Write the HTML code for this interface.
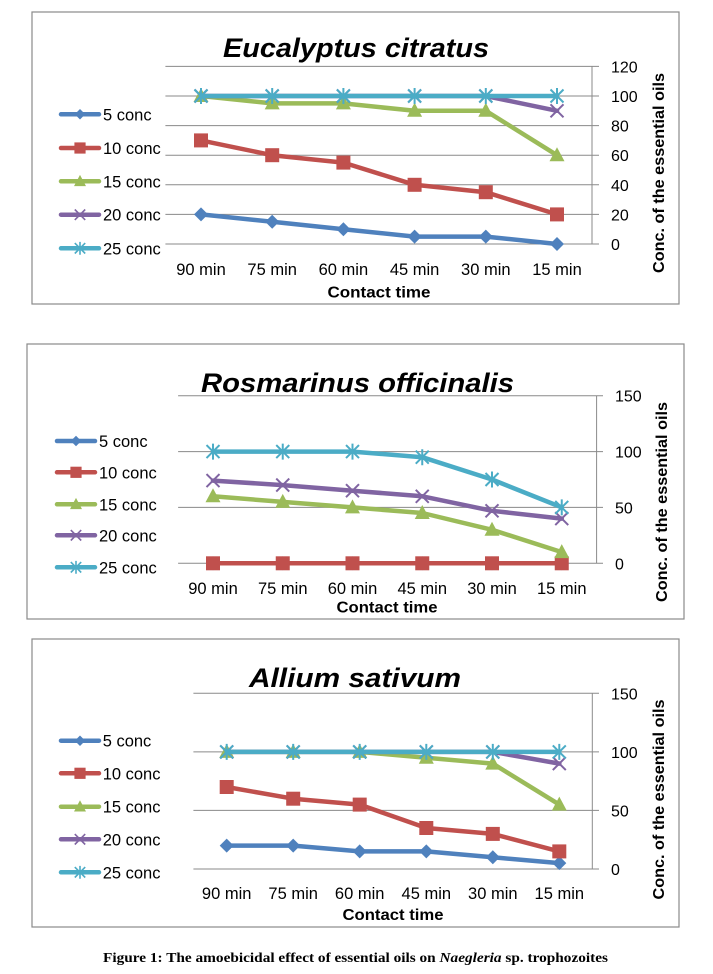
<!DOCTYPE html>
<html><head><meta charset="utf-8"><style>
html,body{margin:0;padding:0;background:#fff;}
svg{display:block;}
text{font-family:"Liberation Sans",Arial,sans-serif;fill:#000;}
.tk{font-size:16px;}
.lg{font-size:16.5px;}
.xl{font-size:16.5px;}
.ax{font-size:16px;font-weight:bold;}
.tt{font-size:27px;font-weight:bold;font-style:italic;}
.grid{stroke:#8a8a8a;stroke-width:1;fill:none;}
.frame{stroke:#8a8a8a;stroke-width:1.2;fill:#fff;}
.l1{stroke:#4f81bd;stroke-width:4.5;fill:none;stroke-linejoin:round;stroke-linecap:round;}
.l2{stroke:#c0504d;stroke-width:4.5;fill:none;stroke-linejoin:round;stroke-linecap:round;}
.l3{stroke:#9bbb59;stroke-width:4.5;fill:none;stroke-linejoin:round;stroke-linecap:round;}
.l4{stroke:#8064a2;stroke-width:4.5;fill:none;stroke-linejoin:round;stroke-linecap:round;}
.l5{stroke:#4bacc6;stroke-width:4.5;fill:none;stroke-linejoin:round;stroke-linecap:round;}
</style></head><body>
<svg width="713" height="974" viewBox="0 0 713 974" xmlns="http://www.w3.org/2000/svg">
<defs>
<g id="dia"><polygon points="0,-7 7,0 0,7 -7,0" fill="#4f81bd"/></g>
<g id="sq"><rect x="-7" y="-7" width="14" height="14" fill="#c0504d"/></g>
<g id="tri"><polygon points="0,-8 7.5,6 -7.5,6" fill="#9bbb59"/></g>
<g id="xm"><path d="M-6.5,-6.5L6.5,6.5M-6.5,6.5L6.5,-6.5" stroke="#8064a2" stroke-width="2" fill="none"/></g>
<g id="st"><path d="M-6.5,-6.5L6.5,6.5M-6.5,6.5L6.5,-6.5M0,-8V8" stroke="#4bacc6" stroke-width="2" fill="none"/></g>
</defs>
<rect width="713" height="974" fill="#fff"/>

<!-- ================= CHART 1 ================= -->
<rect class="frame" x="32" y="12" width="647" height="292"/>
<text class="tt" x="223" y="57" textLength="266" lengthAdjust="spacingAndGlyphs">Eucalyptus citratus</text>
<g class="grid">
<path d="M165.4,66.4H599M165.4,96H599M165.4,125.6H599M165.4,155.2H599M165.4,184.8H599M165.4,214.4H599M165.4,244H599"/>
<path d="M592,66.4V244"/>
</g>
<g class="tk">
<text x="611" y="72.4">120</text><text x="611" y="102">100</text><text x="611" y="131.6">80</text>
<text x="611" y="161.2">60</text><text x="611" y="190.8">40</text><text x="611" y="220.4">20</text><text x="611" y="250">0</text>
</g>
<g class="xl" text-anchor="middle">
<text x="201" y="275">90 min</text><text x="272.2" y="275">75 min</text><text x="343.4" y="275">60 min</text>
<text x="414.6" y="275">45 min</text><text x="485.8" y="275">30 min</text><text x="557" y="275">15 min</text>
</g>
<text class="ax" x="379" y="297.5" text-anchor="middle" textLength="103" lengthAdjust="spacingAndGlyphs">Contact time</text>
<text class="ax" transform="translate(664,173) rotate(-90)" text-anchor="middle" textLength="200" lengthAdjust="spacingAndGlyphs">Conc. of the essential oils</text>
<!-- series -->
<polyline class="l1" points="201,214.4 272.2,221.8 343.4,229.2 414.6,236.6 485.8,236.6 557,244"/>
<use href="#dia" x="201" y="214.4"/><use href="#dia" x="272.2" y="221.8"/><use href="#dia" x="343.4" y="229.2"/><use href="#dia" x="414.6" y="236.6"/><use href="#dia" x="485.8" y="236.6"/><use href="#dia" x="557" y="244"/>
<polyline class="l2" points="201,140.4 272.2,155.2 343.4,162.6 414.6,184.8 485.8,192.2 557,214.4"/>
<use href="#sq" x="201" y="140.4"/><use href="#sq" x="272.2" y="155.2"/><use href="#sq" x="343.4" y="162.6"/><use href="#sq" x="414.6" y="184.8"/><use href="#sq" x="485.8" y="192.2"/><use href="#sq" x="557" y="214.4"/>
<polyline class="l3" points="201,96 272.2,103.4 343.4,103.4 414.6,110.8 485.8,110.8 557,155.2"/>
<use href="#tri" x="201" y="96"/><use href="#tri" x="272.2" y="103.4"/><use href="#tri" x="343.4" y="103.4"/><use href="#tri" x="414.6" y="110.8"/><use href="#tri" x="485.8" y="110.8"/><use href="#tri" x="557" y="155.2"/>
<polyline class="l4" points="201,96 272.2,96 343.4,96 414.6,96 485.8,96 557,110.8"/>
<use href="#xm" x="201" y="96"/><use href="#xm" x="272.2" y="96"/><use href="#xm" x="343.4" y="96"/><use href="#xm" x="414.6" y="96"/><use href="#xm" x="485.8" y="96"/><use href="#xm" x="557" y="110.8"/>
<polyline class="l5" points="201,96 272.2,96 343.4,96 414.6,96 485.8,96 557,96"/>
<use href="#st" x="201" y="96"/><use href="#st" x="272.2" y="96"/><use href="#st" x="343.4" y="96"/><use href="#st" x="414.6" y="96"/><use href="#st" x="485.8" y="96"/><use href="#st" x="557" y="96"/>
<!-- legend -->
<line class="l1" x1="61" y1="114.3" x2="99" y2="114.3"/><use href="#dia" transform="translate(80,114.3) scale(0.75)"/>
<line class="l2" x1="61" y1="148" x2="99" y2="148"/><use href="#sq" transform="translate(80,148) scale(0.8)"/>
<line class="l3" x1="61" y1="181.3" x2="99" y2="181.3"/><use href="#tri" transform="translate(80,181.3) scale(0.8)"/>
<line class="l4" x1="61" y1="214.7" x2="99" y2="214.7"/><use href="#xm" transform="translate(80,214.7) scale(0.8)"/>
<line class="l5" x1="61" y1="248.3" x2="99" y2="248.3"/><use href="#st" transform="translate(80,248.3) scale(0.8)"/>
<g class="lg">
<text x="103" y="120.3">5 conc</text><text x="103" y="154">10 conc</text><text x="103" y="187.3">15 conc</text>
<text x="103" y="220.7">20 conc</text><text x="103" y="254.3">25 conc</text>
</g>

<!-- ================= CHART 2 ================= -->
<rect class="frame" x="27" y="344" width="657" height="275"/>
<text class="tt" x="201" y="392" textLength="313" lengthAdjust="spacingAndGlyphs">Rosmarinus officinalis</text>
<g class="grid">
<path d="M178.1,395.7H603M178.1,451.6H603M178.1,507.4H603M178.1,563.3H603"/>
<path d="M596.6,395.7V563.3"/>
</g>
<g class="tk">
<text x="615" y="401.7">150</text><text x="615" y="457.6">100</text><text x="615" y="513.4">50</text><text x="615" y="569.3">0</text>
</g>
<g class="xl" text-anchor="middle">
<text x="213" y="594">90 min</text><text x="282.75" y="594">75 min</text><text x="352.5" y="594">60 min</text>
<text x="422.25" y="594">45 min</text><text x="492" y="594">30 min</text><text x="561.75" y="594">15 min</text>
</g>
<text class="ax" x="387" y="612.5" text-anchor="middle" textLength="101" lengthAdjust="spacingAndGlyphs">Contact time</text>
<text class="ax" transform="translate(667,502) rotate(-90)" text-anchor="middle" textLength="200" lengthAdjust="spacingAndGlyphs">Conc. of the essential oils</text>
<polyline class="l1" points="213,563.3 282.75,563.3 352.5,563.3 422.25,563.3 492,563.3 561.75,563.3"/>
<use href="#dia" x="213" y="563.3"/><use href="#dia" x="282.75" y="563.3"/><use href="#dia" x="352.5" y="563.3"/><use href="#dia" x="422.25" y="563.3"/><use href="#dia" x="492" y="563.3"/><use href="#dia" x="561.75" y="563.3"/>
<polyline class="l2" points="213,563.3 282.75,563.3 352.5,563.3 422.25,563.3 492,563.3 561.75,563.3"/>
<use href="#sq" x="213" y="563.3"/><use href="#sq" x="282.75" y="563.3"/><use href="#sq" x="352.5" y="563.3"/><use href="#sq" x="422.25" y="563.3"/><use href="#sq" x="492" y="563.3"/><use href="#sq" x="561.75" y="563.3"/>
<polyline class="l3" points="213,496.3 282.75,501.9 352.5,507.4 422.25,513 492,529.8 561.75,552.1"/>
<use href="#tri" x="213" y="496.3"/><use href="#tri" x="282.75" y="501.9"/><use href="#tri" x="352.5" y="507.4"/><use href="#tri" x="422.25" y="513"/><use href="#tri" x="492" y="529.8"/><use href="#tri" x="561.75" y="552.1"/>
<polyline class="l4" points="213,480.6 282.75,485.1 352.5,490.7 422.25,496.3 492,510.8 561.75,518.6"/>
<use href="#xm" x="213" y="480.6"/><use href="#xm" x="282.75" y="485.1"/><use href="#xm" x="352.5" y="490.7"/><use href="#xm" x="422.25" y="496.3"/><use href="#xm" x="492" y="510.8"/><use href="#xm" x="561.75" y="518.6"/>
<polyline class="l5" points="213,451.6 282.75,451.6 352.5,451.6 422.25,457.2 492,479.5 561.75,507.4"/>
<use href="#st" x="213" y="451.6"/><use href="#st" x="282.75" y="451.6"/><use href="#st" x="352.5" y="451.6"/><use href="#st" x="422.25" y="457.2"/><use href="#st" x="492" y="479.5"/><use href="#st" x="561.75" y="507.4"/>
<line class="l1" x1="57" y1="441" x2="95" y2="441"/><use href="#dia" transform="translate(76,441) scale(0.75)"/>
<line class="l2" x1="57" y1="472.3" x2="95" y2="472.3"/><use href="#sq" transform="translate(76,472.3) scale(0.8)"/>
<line class="l3" x1="57" y1="504.3" x2="95" y2="504.3"/><use href="#tri" transform="translate(76,504.3) scale(0.8)"/>
<line class="l4" x1="57" y1="535.3" x2="95" y2="535.3"/><use href="#xm" transform="translate(76,535.3) scale(0.8)"/>
<line class="l5" x1="57" y1="567.3" x2="95" y2="567.3"/><use href="#st" transform="translate(76,567.3) scale(0.8)"/>
<g class="lg">
<text x="99" y="447">5 conc</text><text x="99" y="478.3">10 conc</text><text x="99" y="510.3">15 conc</text>
<text x="99" y="541.3">20 conc</text><text x="99" y="573.3">25 conc</text>
</g>

<!-- ================= CHART 3 ================= -->
<rect class="frame" x="32" y="639" width="647" height="288"/>
<text class="tt" x="249" y="687" textLength="212" lengthAdjust="spacingAndGlyphs">Allium sativum</text>
<g class="grid">
<path d="M193.4,693.3H599M193.4,751.9H599M193.4,810.4H599M193.4,869H599"/>
<path d="M592.3,693.3V869"/>
</g>
<g class="tk">
<text x="611" y="699.3">150</text><text x="611" y="757.9">100</text><text x="611" y="816.4">50</text><text x="611" y="875">0</text>
</g>
<g class="xl" text-anchor="middle">
<text x="226.7" y="899">90 min</text><text x="293.2" y="899">75 min</text><text x="359.7" y="899">60 min</text>
<text x="426.3" y="899">45 min</text><text x="492.8" y="899">30 min</text><text x="559.3" y="899">15 min</text>
</g>
<text class="ax" x="393" y="920" text-anchor="middle" textLength="101" lengthAdjust="spacingAndGlyphs">Contact time</text>
<text class="ax" transform="translate(664,799.5) rotate(-90)" text-anchor="middle" textLength="200" lengthAdjust="spacingAndGlyphs">Conc. of the essential oils</text>
<polyline class="l1" points="226.7,845.6 293.2,845.6 359.7,851.4 426.3,851.4 492.8,857.3 559.3,863.1"/>
<use href="#dia" x="226.7" y="845.6"/><use href="#dia" x="293.2" y="845.6"/><use href="#dia" x="359.7" y="851.4"/><use href="#dia" x="426.3" y="851.4"/><use href="#dia" x="492.8" y="857.3"/><use href="#dia" x="559.3" y="863.1"/>
<polyline class="l2" points="226.7,787 293.2,798.7 359.7,804.6 426.3,828 492.8,833.9 559.3,851.4"/>
<use href="#sq" x="226.7" y="787"/><use href="#sq" x="293.2" y="798.7"/><use href="#sq" x="359.7" y="804.6"/><use href="#sq" x="426.3" y="828"/><use href="#sq" x="492.8" y="833.9"/><use href="#sq" x="559.3" y="851.4"/>
<polyline class="l3" points="226.7,751.9 293.2,751.9 359.7,751.9 426.3,757.7 492.8,763.6 559.3,804.6"/>
<use href="#tri" x="226.7" y="751.9"/><use href="#tri" x="293.2" y="751.9"/><use href="#tri" x="359.7" y="751.9"/><use href="#tri" x="426.3" y="757.7"/><use href="#tri" x="492.8" y="763.6"/><use href="#tri" x="559.3" y="804.6"/>
<polyline class="l4" points="226.7,751.9 293.2,751.9 359.7,751.9 426.3,751.9 492.8,751.9 559.3,763.6"/>
<use href="#xm" x="226.7" y="751.9"/><use href="#xm" x="293.2" y="751.9"/><use href="#xm" x="359.7" y="751.9"/><use href="#xm" x="426.3" y="751.9"/><use href="#xm" x="492.8" y="751.9"/><use href="#xm" x="559.3" y="763.6"/>
<polyline class="l5" points="226.7,751.9 293.2,751.9 359.7,751.9 426.3,751.9 492.8,751.9 559.3,751.9"/>
<use href="#st" x="226.7" y="751.9"/><use href="#st" x="293.2" y="751.9"/><use href="#st" x="359.7" y="751.9"/><use href="#st" x="426.3" y="751.9"/><use href="#st" x="492.8" y="751.9"/><use href="#st" x="559.3" y="751.9"/>
<line class="l1" x1="61" y1="740.7" x2="99" y2="740.7"/><use href="#dia" transform="translate(80,740.7) scale(0.75)"/>
<line class="l2" x1="61" y1="773.3" x2="99" y2="773.3"/><use href="#sq" transform="translate(80,773.3) scale(0.8)"/>
<line class="l3" x1="61" y1="806.7" x2="99" y2="806.7"/><use href="#tri" transform="translate(80,806.7) scale(0.8)"/>
<line class="l4" x1="61" y1="839.3" x2="99" y2="839.3"/><use href="#xm" transform="translate(80,839.3) scale(0.8)"/>
<line class="l5" x1="61" y1="872.3" x2="99" y2="872.3"/><use href="#st" transform="translate(80,872.3) scale(0.8)"/>
<g class="lg">
<text x="102.7" y="746.7">5 conc</text><text x="102.7" y="779.3">10 conc</text><text x="102.7" y="812.7">15 conc</text>
<text x="102.7" y="845.3">20 conc</text><text x="102.7" y="878.3">25 conc</text>
</g>

<!-- caption -->
<text x="103" y="962" style="font-family:'Liberation Serif','Times New Roman',serif;font-size:13.5px;font-weight:bold;" textLength="505" lengthAdjust="spacingAndGlyphs">Figure 1: The amoebicidal effect of essential oils on <tspan font-style="italic">Naegleria</tspan> sp. trophozoites</text>
</svg>
</body></html>
